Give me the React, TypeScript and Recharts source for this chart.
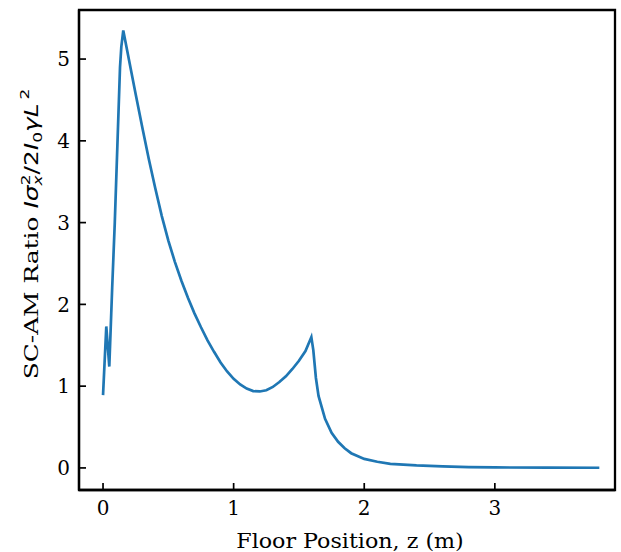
import React from 'react';
import { LineChart, Line, XAxis, YAxis, Label, ReferenceArea } from 'recharts';

// floor position z (m)
const zPos = [
  0, 0.025, 0.048, 0.07, 0.09, 0.11, 0.13, 0.14, 0.155, 0.2, 0.25, 0.3, 0.35, 0.4, 0.45,
  0.5, 0.55, 0.6, 0.65, 0.7, 0.75, 0.8, 0.85, 0.9, 0.95, 1.0, 1.05, 1.1, 1.15, 1.2, 1.25,
  1.3, 1.35, 1.4, 1.45, 1.5, 1.55, 1.595, 1.61, 1.63, 1.65, 1.7, 1.75, 1.8, 1.85, 1.9,
  2.0, 2.1, 2.2, 2.4, 2.6, 2.8, 3.0, 3.4, 3.8,
];

// SC-AM ratio
const ratio = [
  0.89, 1.73, 1.24, 2.2, 3.0, 3.95, 4.9, 5.15, 5.35, 4.98, 4.57, 4.17, 3.78, 3.42, 3.08,
  2.78, 2.52, 2.29, 2.08, 1.89, 1.72, 1.56, 1.42, 1.29, 1.18, 1.09, 1.02, 0.97, 0.94, 0.935,
  0.95, 0.99, 1.05, 1.12, 1.21, 1.31, 1.43, 1.6, 1.44, 1.1, 0.88, 0.6, 0.43, 0.32,
  0.24, 0.18, 0.11, 0.075, 0.05, 0.03, 0.018, 0.01, 0.006, 0.003, 0.002,
];

const xTicks = [0, 1, 2, 3];
const yTicks = [0, 1, 2, 3, 4, 5];
const xDomain = [-0.184, 3.92];
const yDomain = [-0.27, 5.6];

const data = zPos.map((z, i) => ({ z, r: ratio[i] }));

const serif = 'DejaVu Serif';
const sans = 'DejaVu Sans';
const tickLen = 7;
const gap = 4; // tickSize + tickMargin given to the axes below

function renderXTick(props: any) {
  const { x, y, payload } = props;
  const axisY = y - gap;
  return (
    <g key={`xt-${payload.value}`}>
      <line x1={x} y1={axisY} x2={x} y2={axisY - tickLen} stroke="#000" strokeWidth={1.7} />
      <text x={x} y={axisY + 25} textAnchor="middle" fontSize={20} fontFamily={serif} fill="#000">
        {payload.value}
      </text>
    </g>
  );
}

function renderYTick(props: any) {
  const { x, y, payload } = props;
  const axisX = x + gap;
  return (
    <g key={`yt-${payload.value}`}>
      <line x1={axisX} y1={y} x2={axisX + tickLen} y2={y} stroke="#000" strokeWidth={1.7} />
      <text x={axisX - 9} y={y} dy="0.36em" textAnchor="end" fontSize={20} fontFamily={serif} fill="#000">
        {payload.value}
      </text>
    </g>
  );
}

function XTitle(props: any) {
  const { viewBox } = props;
  const cx = viewBox.x + viewBox.width / 2 + 3;
  const cy = 548;
  return (
    <text
      x={0}
      y={0}
      transform={`translate(${cx} ${cy}) scale(1.11 1)`}
      textAnchor="middle"
      fontSize={20}
      fontFamily={serif}
      fill="#000"
    >
      Floor Position, z (m)
    </text>
  );
}

function YTitle() {
  const cx = 38;
  const cy = 234;
  return (
    <text
      x={0}
      y={0}
      transform={`translate(${cx} ${cy}) rotate(-90) scale(1.31 1)`}
      textAnchor="middle"
      fontSize={19}
      fontFamily={serif}
      fill="#000"
    >
      SC-AM Ratio{' '}
      <tspan fontFamily={sans} fontStyle="italic">Iσ</tspan>
      <tspan fontFamily={sans} fontStyle="italic" fontSize={13} dy={4}>x</tspan>
      <tspan fontFamily={sans} fontSize={13} dx={-7.5} dy={-12}>2</tspan>
      <tspan fontFamily={sans} dy={8}>/2</tspan>
      <tspan fontFamily={sans} fontStyle="italic">I</tspan>
      <tspan fontFamily={sans} fontSize={13} dy={4}>0</tspan>
      <tspan fontFamily={sans} fontStyle="italic" dy={-4}>γL</tspan>
      <tspan fontFamily={sans} fontSize={13} dx={3} dy={-9}>2</tspan>
    </text>
  );
}

export default function App() {
  return (
    <div style={{ position: 'absolute', left: 0, top: 0, background: '#fff' }}>
      <LineChart
        width={621}
        height={552}
        data={data}
        margin={{ top: 10, right: 6, bottom: 0, left: 0 }}
      >
        <XAxis
          dataKey="z"
          type="number"
          domain={xDomain}
          allowDataOverflow
          ticks={xTicks}
          interval={0}
          height={62}
          tickSize={2}
          tickMargin={2}
          axisLine={{ stroke: '#000', strokeWidth: 2.3 }}
          tickLine={false}
          tick={renderXTick}
        >
          <Label content={<XTitle />} />
        </XAxis>
        <YAxis
          type="number"
          domain={yDomain}
          allowDataOverflow
          ticks={yTicks}
          interval={0}
          width={79}
          tickSize={2}
          tickMargin={2}
          axisLine={{ stroke: '#000', strokeWidth: 2.3 }}
          tickLine={false}
          tick={renderYTick}
        >
          <Label content={<YTitle />} />
        </YAxis>
        <ReferenceArea
          x1={xDomain[0]}
          x2={xDomain[1]}
          y1={yDomain[0]}
          y2={yDomain[1]}
          fill="none"
          fillOpacity={0}
          stroke="#000"
          strokeWidth={2.3}
          ifOverflow="visible"
        />
        <Line
          type="linear"
          dataKey="r"
          stroke="#1f77b4"
          strokeWidth={2.7}
          dot={false}
          isAnimationActive={false}
        />
      </LineChart>
    </div>
  );
}
